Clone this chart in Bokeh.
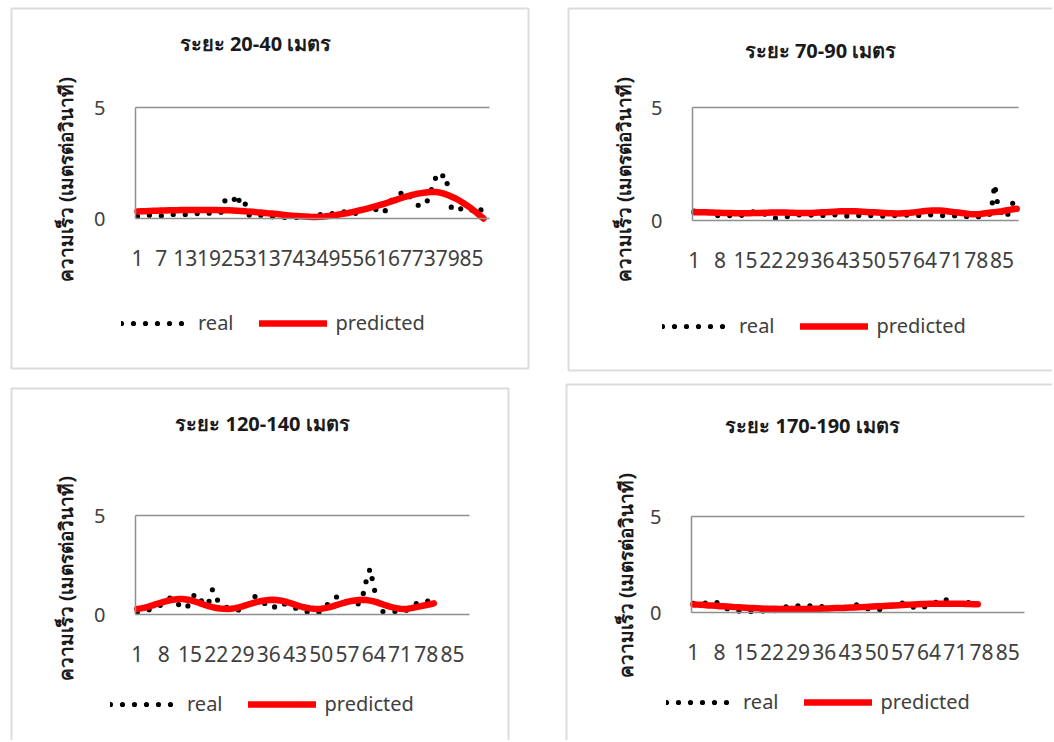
import math
from bokeh.plotting import figure
from bokeh.models import (Range1d, FixedTicker, Label, Legend, LegendItem,
                          BoxAnnotation, LinearAxis)
from bokeh.layouts import row, column
from bokeh.embed import file_html
from bokeh.resources import INLINE

# ---------------- data ----------------
titles = ["ระยะ 20-40 เมตร", "ระยะ 70-90 เมตร", "ระยะ 120-140 เมตร", "ระยะ 170-190 เมตร"]
y_label = "ความเร็ว (เมตรต่อวินาที)"
legend_labels = ["real", "predicted"]
x_ticks_a = [1, 7, 13, 19, 25, 31, 37, 43, 49, 55, 61, 67, 73, 79, 85]
x_ticks_b = [1, 8, 15, 22, 29, 36, 43, 50, 57, 64, 71, 78, 85]
y_ticks = [0, 5]
n_categories = 89

real_1 = [0.10, 0.12, 0.15, 0.15, 0.12, 0.12, 0.12, 0.15, 0.18, 0.18,
          0.18, 0.18, 0.18, 0.20, 0.22, 0.22, 0.22, 0.24, 0.24, 0.25,
          0.25, 0.28, 0.81, 0.70, 0.75, 1.09, 0.57, 0.70, 0.15, 0.18,
          0.22, 0.15, 0.10, 0.10, 0.08, 0.07, 0.07, 0.05, 0.04, 0.04,
          0.05, 0.07, 0.07, 0.10, 0.15, 0.15, 0.18, 0.20, 0.20, 0.22,
          0.25, 0.25, 0.30, 0.34, 0.30, 0.22, 0.22, 0.40, 0.55, 0.45,
          0.40, 0.25, 0.25, 0.60, 0.85, 1.00, 1.10, 1.24, 1.05, 0.90,
          0.70, 0.52, 0.65, 0.82, 1.34, 1.85, 1.70, 2.00, 1.50, 0.38,
          0.40, 0.43, 0.45, 0.50, 0.40, 0.22, 0.30, 0.55]
pred_1 = [0.32, 0.33, 0.33, 0.34, 0.35, 0.35, 0.36, 0.36, 0.37, 0.37,
          0.37, 0.38, 0.38, 0.38, 0.38, 0.38, 0.38, 0.38, 0.38, 0.38,
          0.38, 0.37, 0.37, 0.37, 0.36, 0.35, 0.34, 0.33, 0.31, 0.30,
          0.28, 0.27, 0.25, 0.23, 0.22, 0.20, 0.18, 0.16, 0.14, 0.12,
          0.11, 0.10, 0.09, 0.08, 0.07, 0.07, 0.08, 0.09, 0.11, 0.13,
          0.16, 0.19, 0.22, 0.25, 0.29, 0.33, 0.37, 0.41, 0.46, 0.51,
          0.56, 0.61, 0.66, 0.72, 0.78, 0.84, 0.90, 0.96, 1.01, 1.06,
          1.10, 1.13, 1.16, 1.18, 1.19, 1.19, 1.17, 1.12, 1.06, 0.98,
          0.90, 0.80, 0.69, 0.57, 0.44, 0.30, 0.15, 0.00]

real_2 = [0.42, 0.41, 0.40, 0.38, 0.32, 0.26, 0.22, 0.22, 0.22, 0.22,
          0.22, 0.22, 0.22, 0.23, 0.24, 0.30, 0.38, 0.40, 0.36, 0.30,
          0.18, 0.12, 0.10, 0.12, 0.14, 0.16, 0.20, 0.24, 0.25, 0.25,
          0.25, 0.25, 0.24, 0.20, 0.19, 0.22, 0.25, 0.25, 0.25, 0.25,
          0.25, 0.22, 0.19, 0.20, 0.21, 0.22, 0.22, 0.22, 0.22, 0.22,
          0.21, 0.20, 0.19, 0.20, 0.21, 0.22, 0.23, 0.24, 0.24, 0.23,
          0.22, 0.22, 0.23, 0.24, 0.26, 0.24, 0.22, 0.22, 0.22, 0.22,
          0.22, 0.21, 0.20, 0.19, 0.18, 0.17, 0.15, 0.16, 0.17, 0.18,
          0.18, 0.35, 1.60, 0.50, 0.30, 0.10, 0.40, 0.80, 1.03]
pred_2 = [0.37, 0.37, 0.36, 0.36, 0.35, 0.35, 0.34, 0.34, 0.33, 0.33,
          0.33, 0.32, 0.32, 0.32, 0.32, 0.32, 0.33, 0.33, 0.33, 0.34,
          0.34, 0.35, 0.35, 0.35, 0.35, 0.35, 0.34, 0.34, 0.33, 0.33,
          0.33, 0.33, 0.33, 0.34, 0.35, 0.36, 0.37, 0.38, 0.39, 0.40,
          0.41, 0.41, 0.41, 0.41, 0.41, 0.40, 0.39, 0.38, 0.37, 0.36,
          0.35, 0.34, 0.33, 0.32, 0.32, 0.31, 0.31, 0.32, 0.33, 0.34,
          0.36, 0.38, 0.40, 0.42, 0.43, 0.44, 0.44, 0.44, 0.43, 0.41,
          0.39, 0.37, 0.35, 0.33, 0.31, 0.29, 0.28, 0.28, 0.29, 0.31,
          0.33, 0.35, 0.37, 0.39, 0.41, 0.44, 0.47, 0.50, 0.52]

real_3 = [0.12, 0.15, 0.20, 0.23, 0.30, 0.38, 0.45, 0.60, 0.75, 0.87,
          0.70, 0.50, 0.38, 0.29, 0.60, 0.95, 1.04, 0.70, 0.45, 0.60,
          1.26, 0.80, 0.60, 0.42, 0.35, 0.28, 0.24, 0.23, 0.28, 0.36,
          0.60, 0.96, 0.80, 0.65, 0.55, 0.45, 0.30, 0.45, 0.62, 0.55,
          0.46, 0.40, 0.33, 0.26, 0.22, 0.15, 0.10, 0.07, 0.10, 0.14,
          0.30, 0.62, 0.75, 0.88, 0.92, 0.80, 0.62, 0.57, 0.55, 0.54,
          0.90, 1.71, 2.32, 1.40, 0.60, 0.15, 0.15, 0.16, 0.17, 0.15,
          0.14, 0.13, 0.25, 0.40, 0.54, 0.58, 0.65, 0.70, 0.62, 0.55]
pred_3 = [0.28, 0.31, 0.35, 0.40, 0.46, 0.52, 0.58, 0.64, 0.69, 0.73,
          0.76, 0.78, 0.78, 0.76, 0.73, 0.68, 0.62, 0.55, 0.48, 0.42,
          0.37, 0.33, 0.30, 0.29, 0.28, 0.29, 0.32, 0.36, 0.41, 0.47,
          0.53, 0.59, 0.64, 0.68, 0.71, 0.73, 0.74, 0.73, 0.71, 0.67,
          0.62, 0.56, 0.50, 0.44, 0.38, 0.34, 0.31, 0.29, 0.28, 0.29,
          0.32, 0.36, 0.41, 0.47, 0.53, 0.59, 0.64, 0.68, 0.71, 0.73,
          0.74, 0.73, 0.70, 0.66, 0.60, 0.54, 0.47, 0.41, 0.36, 0.32,
          0.29, 0.28, 0.29, 0.32, 0.36, 0.40, 0.44, 0.48, 0.52, 0.56]

real_4 = [0.48, 0.45, 0.46, 0.48, 0.52, 0.56, 0.55, 0.45, 0.30, 0.20,
          0.14, 0.10, 0.08, 0.06, 0.05, 0.05, 0.06, 0.08, 0.09, 0.07,
          0.06, 0.05, 0.12, 0.22, 0.28, 0.30, 0.33, 0.35, 0.35, 0.35,
          0.35, 0.35, 0.35, 0.35, 0.32, 0.28, 0.24, 0.22, 0.20, 0.18,
          0.20, 0.30, 0.40, 0.44, 0.38, 0.30, 0.23, 0.18, 0.15, 0.13,
          0.16, 0.21, 0.26, 0.35, 0.45, 0.52, 0.48, 0.44, 0.40, 0.25,
          0.19, 0.25, 0.31, 0.38, 0.46, 0.54, 0.65, 0.75, 0.60, 0.48,
          0.40, 0.46, 0.52, 0.54, 0.48, 0.40, 0.38]
pred_4 = [0.42, 0.41, 0.40, 0.39, 0.37, 0.36, 0.35, 0.33, 0.32, 0.31,
          0.30, 0.28, 0.27, 0.26, 0.25, 0.24, 0.23, 0.22, 0.21, 0.20,
          0.20, 0.19, 0.19, 0.18, 0.18, 0.18, 0.18, 0.18, 0.18, 0.18,
          0.18, 0.19, 0.19, 0.20, 0.20, 0.21, 0.21, 0.22, 0.23, 0.23,
          0.24, 0.25, 0.26, 0.26, 0.27, 0.28, 0.29, 0.30, 0.31, 0.32,
          0.33, 0.34, 0.35, 0.36, 0.37, 0.38, 0.39, 0.40, 0.41, 0.42,
          0.43, 0.44, 0.44, 0.45, 0.45, 0.45, 0.46, 0.46, 0.46, 0.46,
          0.45, 0.45, 0.45, 0.44, 0.44, 0.43, 0.43]

FONT = "Noto Sans"
GREY = "#8f8f8f"
TEXT = "#404040"
EDGE = "#8a8a8a"
X0, X1 = 0.5, n_categories + 0.5
Y0, Y1 = y_ticks[0], y_ticks[-1]


def make_panel(title, real, pred, ticks, w, h, area, border, title_xy, ylab_xy, legend_xy):
    # area = (left, top, right, bottom) of the plotting area in canvas pixels
    al, at, ar, ab = area
    ppx = (ar - al) / (X1 - X0)
    ppy = (ab - at) / (Y1 - Y0)
    x_range = Range1d(X0 - al / ppx, X1 + (w - ar) / ppx)
    y_range = Range1d(Y0 - (h - ab) / ppy, Y1 + at / ppy)

    p = figure(width=w, height=h, x_range=x_range, y_range=y_range,
               output_backend="svg", toolbar_location=None, min_border=0)
    p.title.visible = False
    p.outline_line_color = None
    p.background_fill_color = "white"
    p.border_fill_color = "white"
    p.xgrid.visible = False
    p.ygrid.visible = False

    xax = p.xaxis[0]
    yax = p.yaxis[0]
    xax.ticker = FixedTicker(ticks=ticks)
    yax.ticker = FixedTicker(ticks=y_ticks)
    xax.fixed_location = Y0
    xax.bounds = (X0, X1)
    yax.fixed_location = X0
    yax.bounds = (Y0, Y1)
    for ax in (xax, yax):
        ax.axis_line_color = GREY
        ax.axis_line_width = 1.5
        ax.major_tick_line_color = None
        ax.minor_tick_line_color = None
        ax.major_tick_in = 0
        ax.major_tick_out = 0
        ax.major_label_text_font = FONT
        ax.major_label_text_color = TEXT
    xax.major_label_text_font_size = "21px"
    xax.major_label_standoff = 31
    yax.major_label_text_font_size = "20px"
    yax.major_label_standoff = 30

    # top line of the plotting area (value 5)
    top = LinearAxis(fixed_location=Y1, bounds=(X0, X1), ticker=FixedTicker(ticks=[]),
                     axis_line_color=GREY, axis_line_width=1.5,
                     major_tick_line_color=None, minor_tick_line_color=None,
                     major_label_text_alpha=0)
    p.add_layout(top, "above")

    xs = list(range(1, len(real) + 1))
    r_real = p.line(xs, real, line_color="black", line_width=5.2,
                    line_dash="0 12", line_cap="round")
    xp = list(range(1, len(pred) + 1))
    r_pred = p.line(xp, pred, line_color="#ff0000", line_width=6.5,
                    line_cap="round", line_join="round")

    legend = Legend(items=[LegendItem(label=legend_labels[0], renderers=[r_real]),
                           LegendItem(label=legend_labels[1], renderers=[r_pred])],
                    location=legend_xy, orientation="horizontal",
                    padding=0, margin=0, spacing=25, label_standoff=9,
                    glyph_width=68, glyph_height=22,
                    label_text_font=FONT, label_text_font_size="20px",
                    label_text_color=TEXT, border_line_color=None,
                    background_fill_alpha=0)
    p.add_layout(legend)

    p.add_layout(Label(x=title_xy[0], y=title_xy[1], x_units="canvas", y_units="canvas",
                       text=title, text_align="center", text_baseline="middle",
                       text_font=FONT, text_font_size="20px", text_font_style="bold",
                       text_color="#1a1a1a"))
    p.add_layout(Label(x=ylab_xy[0], y=ylab_xy[1], x_units="canvas", y_units="canvas",
                       text=y_label, text_align="center", text_baseline="middle",
                       angle=math.pi / 2, text_font=FONT, text_font_size="19px",
                       text_font_style="bold", text_color="#1a1a1a"))

    bl, bt, br, bb = border
    p.add_layout(BoxAnnotation(left=bl, right=br, top=bt, bottom=bb,
                               left_units="canvas", right_units="canvas",
                               top_units="canvas", bottom_units="canvas",
                               fill_alpha=0, line_color=EDGE, line_width=2))
    return p


p1 = make_panel(titles[0], real_1, pred_1, x_ticks_a, 547, 377,
                (135, 107, 489, 218), (11, 8, 528, 368),
                (255, 43), (65, 179), (121, 41))
p2 = make_panel(titles[1], real_2, pred_2, x_ticks_b, 505, 377,
                (145, 107, 471, 220), (21, 8, 540, 370),
                (273, 50), (76, 179), (115, 38))
p3 = make_panel(titles[2], real_3, pred_3, x_ticks_b, 547, 363,
                (135, 138, 469, 237), (11, 11, 508, 390),
                (262, 46), (65, 201), (110, 23))
p4 = make_panel(titles[3], real_4, pred_4, x_ticks_b, 505, 363,
                (144, 139, 477, 235), (19, 7, 540, 390),
                (265, 48), (78, 198), (119, 25))

layout = column(row(p1, p2), row(p3, p4))

open("out.html", "w").write(file_html(layout, INLINE))
